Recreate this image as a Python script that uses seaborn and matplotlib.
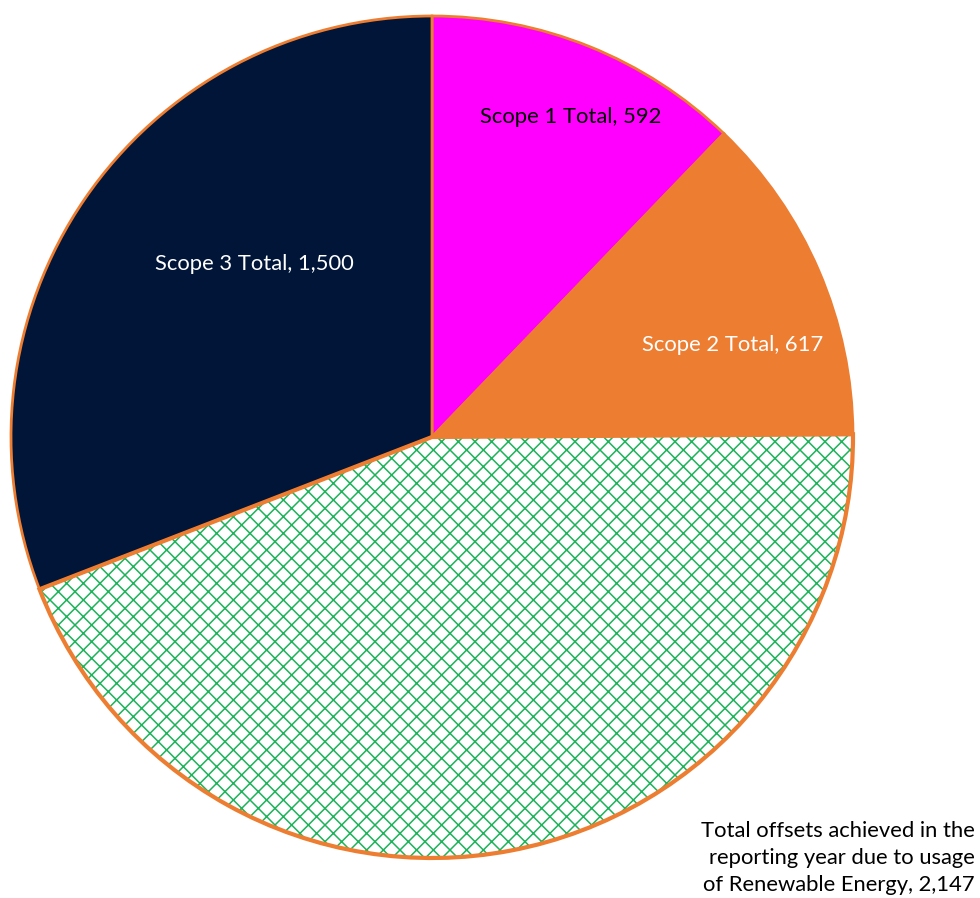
import matplotlib
matplotlib.use("Agg")
import matplotlib.pyplot as plt
from matplotlib.patches import Wedge
import seaborn as sns

sns.set_theme(style="white")
plt.rcParams['font.family'] = ['Lato', 'DejaVu Sans']
plt.rcParams['hatch.linewidth'] = 1.1

# Data
categories = ["Scope 1 Total", "Scope 2 Total",
              "Total offsets achieved in the\nreporting year due to usage\nof Renewable Energy",
              "Scope 3 Total"]
values = [592, 617, 2147, 1500]
value_labels = ["592", "617", "2,147", "1,500"]
colors = ["#FF00FF", "#ED7D31", "#FFFFFF", "#001538"]
text_colors = ["black", "white", "black", "white"]

W, H = 980, 898
fig = plt.figure(figsize=(W / 100, H / 100), dpi=100)
ax = fig.add_axes([0, 0, 1, 1])

cx, cy, R = 432, H - 437, 421
wedges, _ = ax.pie(values, colors=colors, startangle=90, counterclock=False,
                   center=(cx, cy), radius=R, frame=True,
                   wedgeprops=dict(edgecolor="#ED7D31", linewidth=2.0))
ax.set_xlim(0, W)
ax.set_ylim(0, H)
ax.set_aspect("equal")
ax.axis("off")

# hatched renewable-energy slice
g = wedges[2]
g.set_edgecolor("#1DB35A")
g.set_linewidth(0)
g.set_hatch("xx")
ax.add_patch(Wedge(g.center, g.r, g.theta1, g.theta2, facecolor="none",
                   edgecolor="#ED7D31", linewidth=3, zorder=3))

# labels
label_pos = [(571, H - 117), (733, H - 345), (975, H - 858), (254, H - 264)]
for i, (cat, vl) in enumerate(zip(categories, value_labels)):
    x, y = label_pos[i]
    if i == 2:
        ax.text(x, y, f"{cat}, {vl}", ha="right", va="center", fontsize=15.8,
                color=text_colors[i], linespacing=1.42, zorder=5)
    else:
        ax.text(x, y, f"{cat}, {vl}", ha="center", va="center", fontsize=15.8,
                color=text_colors[i], zorder=5)

fig.savefig("out.png", dpi=100, facecolor="white")
